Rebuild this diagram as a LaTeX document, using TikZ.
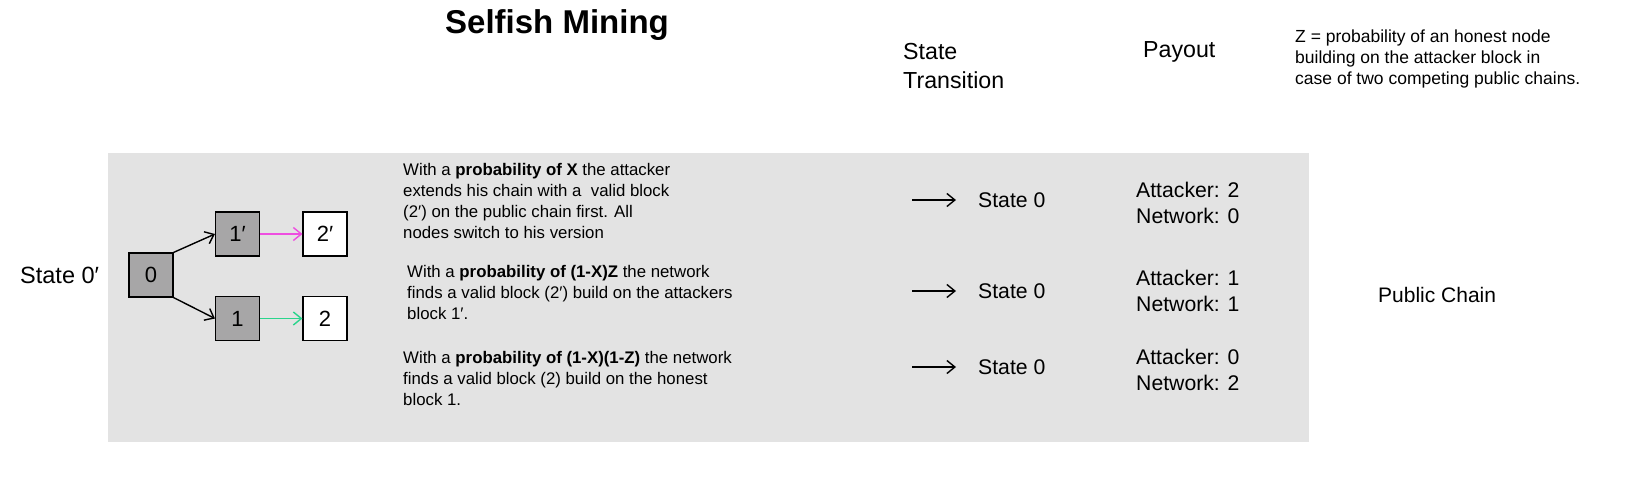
\documentclass[tikz,border=0pt]{standalone}
\usepackage{fontspec}
\setmainfont{Liberation Sans}
\usetikzlibrary{arrows.meta,positioning}
\definecolor{sband}{HTML}{E3E3E3}
\definecolor{sblock}{HTML}{A7A6A7}
\definecolor{smagenta}{HTML}{EE4EE0}
\definecolor{sgreen}{HTML}{2AD48C}

\begin{document}
\begin{tikzpicture}[
  x=1pt,y=-1pt,>={Straight Barb[length=8pt,width=13pt]},
  block/.style={draw=black,line width=1.1pt,minimum size=44pt,inner sep=0pt,
    font=\fontsize{22}{26}\selectfont},
  priv/.style={block,fill=sblock},
  pub/.style={block,fill=white},
  desc/.style={anchor=west,align=left,inner sep=0pt,font=\fontsize{16.8}{21}\selectfont},
  head/.style={anchor=west,align=left,inner sep=0pt,font=\fontsize{23.2}{29}\selectfont},
  txt/.style={anchor=west,align=left,inner sep=0pt,font=\fontsize{21.2}{26}\selectfont},
  branch/.style={->,draw=black,line width=1.4pt},
  trans/.style={->,draw=black,line width=1.4pt,shorten >=22pt}
]
\useasboundingbox (0,0) rectangle (1628,496);

% grey band behind the state 0' cases
\path[fill=sband] (108,153) rectangle (1309,442);
\node[font=\fontsize{33}{38}\selectfont\bfseries] (title) at (557,25) {Selfish Mining};

% column headers and the note on Z
\node[head] (hstate) at (903,66) {State\\Transition};
\node[head] (hpay) at (1143,52) {Payout};
\node[anchor=west,align=left,inner sep=0pt,font=\fontsize{17.5}{21}\selectfont] (znote) at (1295,59)
  {Z = probability of an honest node\\building on the attacker block in\\case of two competing public chains.};

% the fork: attacker chain on top, honest chain below
\node[txt,font=\fontsize{23.5}{26}\selectfont] (st0) at (20,275) {State 0′};
\node[priv] (b0) at (151,275) {0};
\node[priv] (a1) at (237.5,234) {1′};
\node[pub] (a2) at (325,234) {2′};
\node[priv] (h1) at (237.5,318.5) {1};
\node[pub] (h2) at (325,318.5) {2};
\draw[branch] (b0.north east) -- (a1.west);
\draw[branch] (b0.south east) -- (h1.west);
\draw[branch,draw=smagenta] (a1) -- (a2);
\draw[branch,draw=sgreen] (h1) -- (h2);

% the three outcomes
\node[desc] (c1) at (403,201) {With a \textbf{probability of X} the attacker\\extends his chain with a\ \ valid block\\(2′) on the public chain first. All\\nodes switch to his version};
\node[desc] (c2) at (407,292) {With a \textbf{probability of (1-X)Z} the network\\finds a valid block (2′) build on the attackers\\block 1′.};
\node[desc] (c3) at (403,378) {With a \textbf{probability of (1-X)(1-Z)} the network\\finds a valid block (2) build on the honest\\block 1.};

\coordinate (t1) at (912,200);
\coordinate (t2) at (912,291);
\coordinate (t3) at (912,367);
\node[txt] (n1) at (978,200) {State 0};
\node[txt] (n2) at (978,291) {State 0};
\node[txt] (n3) at (978,367) {State 0};
\draw[trans] (t1) -- (n1.west);
\draw[trans] (t2) -- (n2.west);
\draw[trans] (t3) -- (n3.west);

\node[txt] (p1) at (1136,203) {Attacker: 2\\Network: 0};
\node[txt] (p2) at (1136,291) {Attacker: 1\\Network: 1};
\node[txt] (p3) at (1136,370) {Attacker: 0\\Network: 2};

\node[txt,font=\fontsize{21}{26}\selectfont] (pub) at (1378,295) {Public Chain};
\end{tikzpicture}
\end{document}
